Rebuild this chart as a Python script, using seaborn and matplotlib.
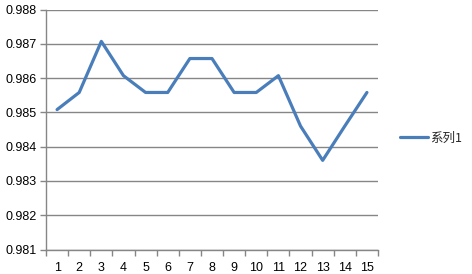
import matplotlib
matplotlib.use("Agg")
import matplotlib.pyplot as plt
import seaborn as sns
import pandas as pd
from matplotlib.ticker import FixedLocator, NullFormatter, FixedFormatter

categories = list(range(1, 16))
values = [0.98508, 0.98558, 0.98707, 0.98607, 0.98558, 0.98558, 0.98657, 0.98657,
          0.98558, 0.98558, 0.98607, 0.98460, 0.98360, 0.98460, 0.98558]
series_name = "系列1"
y_ticks = [0.981, 0.982, 0.983, 0.984, 0.985, 0.986, 0.987, 0.988]

df = pd.DataFrame({"x": categories, "y": values, "s": series_name})

sns.set_style("white")
plt.rcParams['font.family'] = ['Liberation Sans', 'DejaVu Sans']

fig = plt.figure(figsize=(4.72, 2.74), dpi=100)
ax = fig.add_axes([46/472, 1-249.5/274, (378-46)/472, (249.5-9.5)/274])

sns.lineplot(data=df, x="x", y="y", hue="s", palette=["#4A7EBB"], linewidth=2.3,
             ax=ax, legend=True)

ax.set_xlim(0.5, 15.5)
ax.set_ylim(0.981, 0.988)
ax.set_yticks(y_ticks)
ax.set_yticklabels([f"{v:.3f}" for v in y_ticks])
ax.yaxis.grid(True, color="#868686", linewidth=1.0)
ax.set_axisbelow(True)

# x ticks: marks at category boundaries, labels at centres
ax.xaxis.set_major_locator(FixedLocator([i + 0.5 for i in range(0, 16)]))
ax.xaxis.set_major_formatter(NullFormatter())
ax.xaxis.set_minor_locator(FixedLocator(categories))
ax.xaxis.set_minor_formatter(FixedFormatter([str(c) for c in categories]))
ax.tick_params(axis="x", which="major", direction="out", length=4, width=1, color="#868686", bottom=True)
ax.tick_params(axis="x", which="minor", length=0, labelsize=9, pad=9, labelcolor="black")
ax.tick_params(axis="y", which="major", direction="out", length=4, width=1, color="#868686",
               left=True, labelsize=9, pad=3, labelcolor="black")

for side in ["top", "right"]:
    ax.spines[side].set_visible(False)
for side in ["left", "bottom"]:
    ax.spines[side].set_color("#868686")
    ax.spines[side].set_linewidth(1.0)

ax.set_xlabel("")
ax.set_ylabel("")

leg = ax.legend(loc="center left", bbox_to_anchor=(395/472, 1-138/274), bbox_transform=fig.transFigure,
                frameon=False, handlelength=2.2, handletextpad=0.2, borderaxespad=0,
                prop={"family": ["Noto Sans CJK SC", "DejaVu Sans"], "size": 9})

fig.savefig("out.png", dpi=100)
